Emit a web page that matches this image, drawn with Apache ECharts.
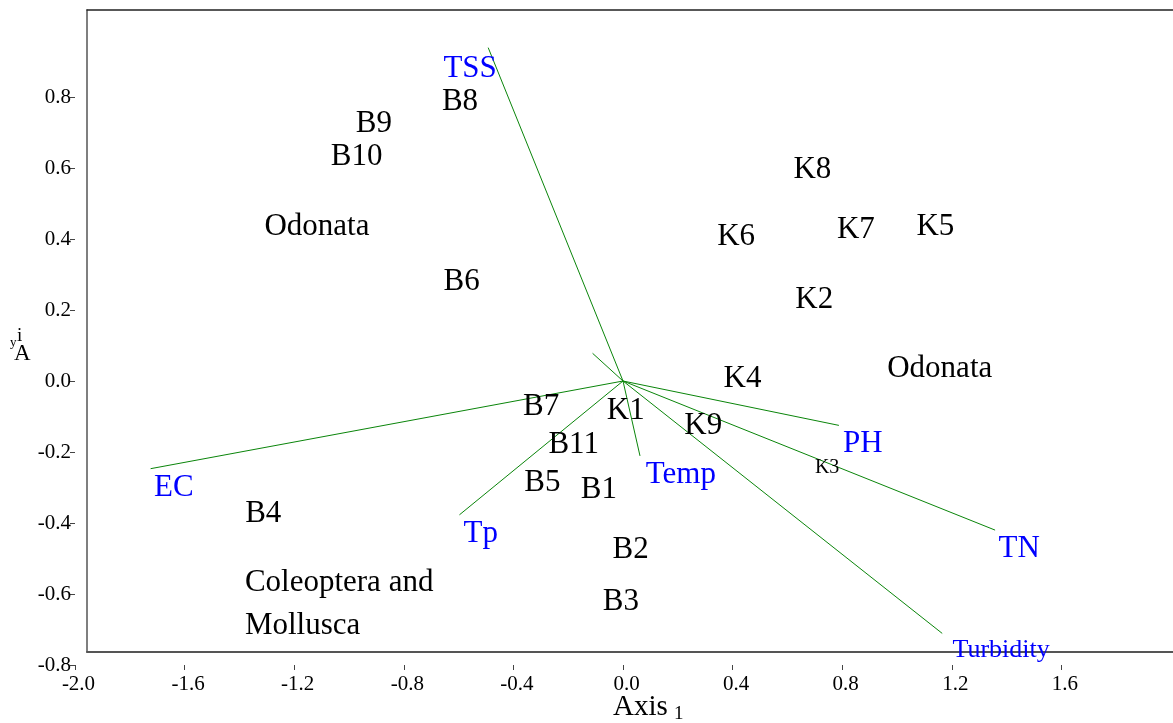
<!DOCTYPE html>
<html>
<head>
<meta charset="utf-8">
<script src="https://cdn.jsdelivr.net/npm/echarts@6/dist/echarts.min.js"></script>
<style>
html,body{margin:0;padding:0;background:#fff;}
#chart{width:1173px;height:723px;}
</style>
</head>
<body>
<div id="chart"></div>
<script>
// ---- Data ----
const siteNames = ['B1','B2','B3','B4','B5','B6','B7','B8','B9','B10','B11','K1','K2','K4','K5','K6','K7','K8','K9'];
const siteX = [-0.088, 0.028, -0.008, -1.313, -0.294, -0.589, -0.299, -0.595, -0.909, -0.972, -0.180, 0.010, 0.698, 0.436, 1.140, 0.413, 0.850, 0.691, 0.293];
const siteY = [-0.308, -0.477, -0.622, -0.373, -0.287, 0.280, -0.074, 0.787, 0.725, 0.631, -0.181, -0.083, 0.228, 0.006, 0.433, 0.407, 0.425, 0.595, -0.125];

const smallSiteNames = ['K3'];
const smallSiteX = [0.745];
const smallSiteY = [-0.244];

const groupNames = ['Odonata', 'Odonata'];
const groupX = [-1.117, 1.156];
const groupY = [0.434, 0.035];

const blockGroupNames = ['Coleoptera and\nMollusca'];
const blockGroupX = [-1.380];
const blockGroupY = [-0.628];

const varNames = ['TSS', 'EC', 'Tp', 'Temp', 'PH', 'TN', 'Turbidity', ''];
const varArrowX = [-0.492, -1.724, -0.597, 0.062, 0.788, 1.358, 1.165, -0.111];
const varArrowY = [0.939, -0.247, -0.377, -0.211, -0.125, -0.420, -0.711, 0.078];

const varLabelNames = ['TSS', 'EC', 'Tp', 'Temp', 'PH', 'TN'];
const varLabelX = [-0.558, -1.639, -0.519, 0.211, 0.875, 1.446];
const varLabelY = [0.880, -0.300, -0.430, -0.265, -0.178, -0.473];

const smallVarLabelNames = ['Turbidity'];
const smallVarLabelX = [1.380];
const smallVarLabelY = [-0.757];

const xTicks = [-2.0, -1.6, -1.2, -0.8, -0.4, 0.0, 0.4, 0.8, 1.2, 1.6];
const yTicks = [-0.8, -0.6, -0.4, -0.2, 0.0, 0.2, 0.4, 0.6, 0.8];

// ---- Chart ----
const FONT = "'Liberation Serif','Times New Roman',serif";
const chart = echarts.init(document.getElementById('chart'), null, {renderer: 'canvas'});

function pts(names, xs, ys) {
  return names.map((n, i) => ({name: n, value: [xs[i], ys[i]]}));
}
function labelSeries(names, xs, ys, size, color, extra) {
  return {
    type: 'scatter',
    xAxisIndex: 0, yAxisIndex: 0,
    symbolSize: 0,
    silent: true,
    itemStyle: {opacity: 1, color: color},
    data: pts(names, xs, ys),
    label: Object.assign({
      show: true,
      position: 'inside',
      formatter: p => p.name,
      fontFamily: FONT,
      fontSize: size,
      color: color,
      opacity: 1
    }, extra || {}),
    z: 5
  };
}
function frameAxis(gridIndex, position, color, width) {
  return {
    type: 'value', gridIndex: gridIndex, position: position, min: 0, max: 1,
    axisLine: {show: true, onZero: false, lineStyle: {color: color, width: width}},
    axisTick: {show: false}, axisLabel: {show: false}, splitLine: {show: false}
  };
}

const option = {
  backgroundColor: '#fff',
  animation: false,
  grid: [
    {left: 75, right: 2, top: 26, bottom: 58, show: false},
    {left: 87, right: 0, top: 10, bottom: 71, show: false}
  ],
  xAxis: [
    {
      type: 'value', gridIndex: 0, min: -2.0, max: 2.0, interval: 0.4,
      splitLine: {show: false},
      axisLine: {show: false, onZero: false},
      axisTick: {show: true, length: 5, inside: false, customValues: xTicks, lineStyle: {color: '#444', width: 1}},
      axisLabel: {
        show: true, customValues: xTicks, margin: 9, padding: [0, 0, 0, 7],
        fontFamily: FONT, fontSize: 21, color: '#000',
        formatter: v => v.toFixed(1)
      }
    },
    frameAxis(1, 'bottom', '#555', 2),
    frameAxis(1, 'top', '#222', 1.5)
  ],
  yAxis: [
    {
      type: 'value', gridIndex: 0, min: -0.8, max: 1.0, interval: 0.2,
      splitLine: {show: false},
      axisLine: {show: false, onZero: false},
      axisTick: {show: true, length: 5, inside: false, customValues: yTicks, lineStyle: {color: '#444', width: 1}},
      axisLabel: {
        show: true, customValues: yTicks, margin: 4,
        fontFamily: FONT, fontSize: 21, color: '#000',
        formatter: v => v.toFixed(1)
      }
    },
    frameAxis(1, 'left', '#555', 1.5)
  ],
  graphic: [
    {type: 'text', left: 613, top: 693, style: {text: 'Axis', font: "29px 'Liberation Serif', serif", fill: '#000'}},
    {type: 'text', left: 674, top: 705, style: {text: '1', font: "19px 'Liberation Serif', serif", fill: '#000'}},
    {type: 'text', left: 17, top: 327, style: {text: 'i', font: "19px 'Liberation Serif', serif", fill: '#000'}},
    {type: 'text', left: 10, top: 336, style: {text: 'y', font: "13px 'Liberation Serif', serif", fill: '#000'}},
    {type: 'text', left: 14, top: 342, style: {text: 'A', font: "23px 'Liberation Serif', serif", fill: '#000'}}
  ],
  series: [
    {
      type: 'lines',
      coordinateSystem: 'cartesian2d',
      xAxisIndex: 0, yAxisIndex: 0,
      silent: true,
      lineStyle: {color: '#0a850a', width: 1, opacity: 1},
      data: varNames.map((n, i) => ({name: n, coords: [[0, 0], [varArrowX[i], varArrowY[i]]]})),
      z: 3
    },
    labelSeries(siteNames, siteX, siteY, 31, '#000'),
    labelSeries(smallSiteNames, smallSiteX, smallSiteY, 20, '#000'),
    labelSeries(groupNames, groupX, groupY, 31, '#000'),
    labelSeries(blockGroupNames, blockGroupX, blockGroupY, 31, '#000', {position: 'right', distance: 0, align: 'left', lineHeight: 43}),
    labelSeries(varLabelNames, varLabelX, varLabelY, 31, '#0000ff'),
    labelSeries(smallVarLabelNames, smallVarLabelX, smallVarLabelY, 26, '#0000ff')
  ]
};
chart.setOption(option);
</script>
</body>
</html>
